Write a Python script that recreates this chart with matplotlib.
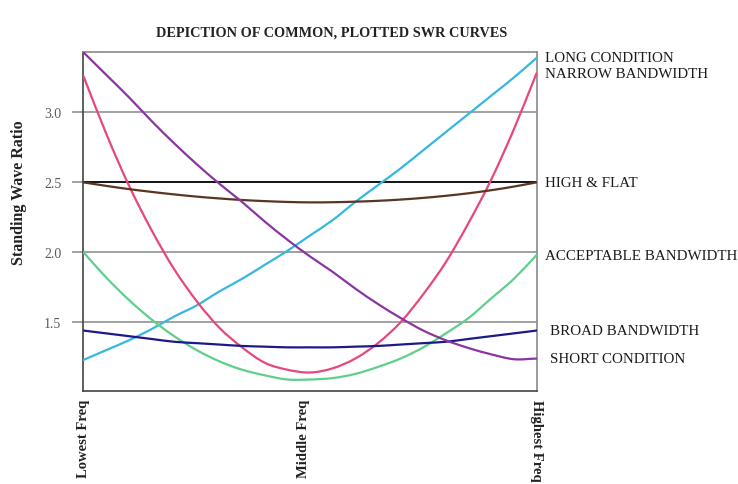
import numpy as np
import matplotlib
matplotlib.use("Agg")
import matplotlib.pyplot as plt
from matplotlib.path import Path
from matplotlib.patches import PathPatch
from matplotlib.transforms import blended_transform_factory

# Position across the band (0 = lowest freq, 1 = highest freq)
band = [0.00, 0.05, 0.10, 0.15, 0.20, 0.25, 0.30, 0.35, 0.40, 0.45, 0.50,
        0.55, 0.60, 0.65, 0.70, 0.75, 0.80, 0.85, 0.90, 0.95, 1.00]

# SWR for each curve
long_condition = [1.23, 1.30, 1.37, 1.45, 1.54, 1.62, 1.72, 1.81, 1.91, 2.01, 2.12,
                  2.23, 2.36, 2.48, 2.60, 2.73, 2.86, 2.99, 3.12, 3.25, 3.39]
narrow_bw = [3.26, 2.85, 2.48, 2.16, 1.88, 1.65, 1.46, 1.32, 1.21, 1.16, 1.14,
             1.17, 1.24, 1.35, 1.50, 1.70, 1.93, 2.21, 2.52, 2.88, 3.28]
high_flat = [2.50, 2.475, 2.452, 2.432, 2.414, 2.398, 2.385, 2.374, 2.366, 2.36, 2.357,
             2.358, 2.362, 2.368, 2.377, 2.389, 2.404, 2.422, 2.444, 2.47, 2.50]
acceptable_bw = [2.00, 1.82, 1.66, 1.52, 1.40, 1.30, 1.22, 1.16, 1.12, 1.09, 1.09,
                 1.10, 1.13, 1.18, 1.24, 1.32, 1.42, 1.53, 1.67, 1.81, 1.98]
broad_bw = [1.44, 1.42, 1.40, 1.38, 1.36, 1.35, 1.34, 1.33, 1.325, 1.32, 1.32,
            1.32, 1.325, 1.33, 1.34, 1.35, 1.36, 1.38, 1.40, 1.42, 1.44]
short_condition = [3.43, 3.27, 3.11, 2.94, 2.78, 2.63, 2.49, 2.36, 2.22, 2.09, 1.97,
                   1.86, 1.74, 1.63, 1.53, 1.44, 1.37, 1.315, 1.27, 1.235, 1.24]

curve_names = ["LONG CONDITION", "NARROW BANDWIDTH", "HIGH & FLAT",
               "ACCEPTABLE BANDWIDTH", "BROAD BANDWIDTH", "SHORT CONDITION"]
curve_values = [long_condition, narrow_bw, high_flat, acceptable_bw, broad_bw, short_condition]
curve_colors = ["#35b8df", "#e8477c", "#5a3522", "#5fcf8c", "#1c1a8a", "#8b35a0"]
label_shift = [8, 8, 8, 8, 13, 13]

freq_ticks = [0.0, 0.485, 1.0]
freq_labels = ["Lowest Freq", "Middle Freq", "Highest Freq"]
freq_rot = [90, 90, 270]
swr_ticks = [1.5, 2.0, 2.5, 3.0]

plt.rcParams["font.family"] = ["Liberation Serif", "DejaVu Serif"]


def smooth_path(xs, ys):
    # draw the read points as one smooth curve (Catmull-Rom as cubic Beziers)
    p = np.column_stack([xs, ys])
    ext = np.vstack([2 * p[0] - p[1], p, 2 * p[-1] - p[-2]])
    verts = [p[0]]
    codes = [Path.MOVETO]
    for i in range(1, len(ext) - 2):
        c1 = ext[i] + (ext[i + 1] - ext[i - 1]) / 6
        c2 = ext[i + 1] - (ext[i + 2] - ext[i]) / 6
        verts += [c1, c2, ext[i + 1]]
        codes += [Path.CURVE4] * 3
    return Path(verts, codes)


fig = plt.figure(figsize=(7.38, 4.85), dpi=100)
ax = fig.add_axes([0.1131, 0.1924, 0.6139, 0.6976])

for t in swr_ticks:
    ax.axhline(t, color="black" if t == 2.5 else "#9a9a9a", lw=1.3, zorder=1)

for vals, col in zip(curve_values, curve_colors):
    ax.add_patch(PathPatch(smooth_path(band, vals), fill=False, edgecolor=col,
                           lw=1.6, zorder=3, capstyle="round"))

ax.set_xlim(0, 1)
ax.set_ylim(1.01, 3.43)

ax.set_yticks(swr_ticks)
ax.set_yticklabels([f"{t:.1f}" for t in swr_ticks], fontsize=10, color="#5a5a5a")
ax.tick_params(axis="y", length=8, width=1.3, color="#9a9a9a", pad=8)

ax.set_xticks(freq_ticks)
ax.set_xticklabels([])
ax.tick_params(axis="x", length=0)
for t, lab, rot in zip(freq_ticks, freq_labels, freq_rot):
    ax.annotate(lab, xy=(t, 0), xycoords=("data", "axes fraction"),
                xytext=(0, -8), textcoords="offset pixels",
                rotation=rot, ha="center", va="top", fontsize=10.5,
                fontweight="bold", color="#222222")

for side in ["left", "bottom"]:
    ax.spines[side].set_color("#444444")
    ax.spines[side].set_linewidth(1.2)
for side in ["top", "right"]:
    ax.spines[side].set_color("#8a8a8a")
    ax.spines[side].set_linewidth(1.2)

fig.text(19 / 738, 1 - 193 / 485, "Standing Wave Ratio", rotation=90,
         ha="center", va="center", fontsize=11.5, fontweight="bold", color="#222222")

trans = blended_transform_factory(ax.transAxes, ax.transData)
for name, vals, dx in zip(curve_names, curve_values, label_shift):
    ax.annotate(name, xy=(1, vals[-1]), xycoords=trans, xytext=(dx, 0),
                textcoords="offset pixels", va="center", ha="left",
                fontsize=10.8, color="#1a1a1a", annotation_clip=False)

fig.text(0.449, 0.932, "DEPICTION OF COMMON, PLOTTED SWR CURVES",
         ha="center", va="center", fontsize=10.3, fontweight="bold", color="#222222")

fig.savefig("out.png", dpi=100, facecolor="white")
